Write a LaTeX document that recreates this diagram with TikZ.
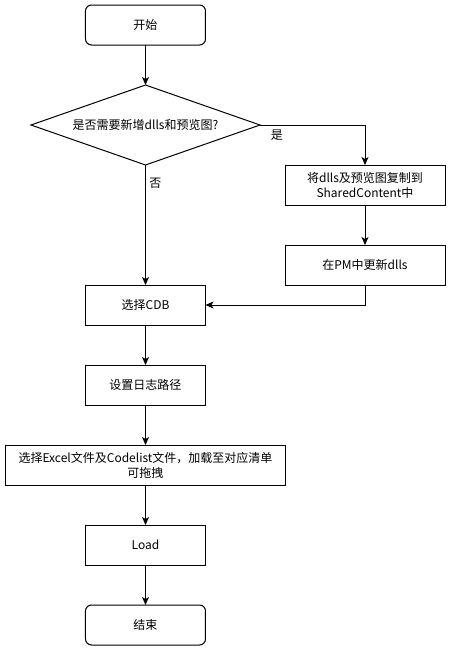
\documentclass[tikz,border=0pt]{standalone}
\usepackage{fontspec}
\setmainfont{Noto Sans CJK SC}
\usepackage{tikz}
\usetikzlibrary{arrows.meta,positioning,shapes.geometric}

\begin{document}
\begin{tikzpicture}[
  term/.style={rectangle,rounded corners=6pt,draw=black,fill=white,line width=1pt,
               inner sep=0pt,outer sep=0pt,minimum width=120pt, minimum height=40pt,
               align=center},
  proc/.style={rectangle,draw=black,fill=white,line width=1pt,
               inner sep=0pt,outer sep=0pt,minimum width=120pt, minimum height=40pt,
               align=center},
  wideproc/.style={proc, minimum width=160pt},
  decide/.style={diamond,draw=black,fill=white,line width=1pt,inner sep=0pt,
                 outer sep=0pt,aspect=2.86, minimum width=229pt, minimum height=80pt},
  flow/.style={line width=1pt,-{Stealth[length=8pt,width=7pt,inset=2pt]}},
  every node/.style={font=\fontsize{12}{15}\selectfont},
  node distance=40pt,
]
  \useasboundingbox (-145.5pt,25pt) rectangle (305.5pt,-626pt);

  %% Main column
  \node[term](start){开始};
  \node[decide,below=40pt of start,
        label={center:是否需要新增dlls和预览图?}](ask){};
  \node[proc,below=120pt of ask](cdb){选择CDB};
  \node[proc,below=of cdb](logpath){设置日志路径};
  \node[proc,below=of logpath,minimum width=280pt](files)
    {选择Excel文件及Codelist文件，加载至对应清单\\可拖拽};
  \node[proc,below=of files](load){Load};
  \node[term,below=of load](stop){结束};

  %% Branch for new dlls
  \node[wideproc,below right=40pt and 25pt of ask.east](copy)
    {将dlls及预览图复制到\\SharedContent中};
  \node[wideproc,below=of copy](pm){在PM中更新dlls};

  %% Connectors
  \draw[flow] (start) -- (ask);
  \draw[flow] (ask.east) -| node[pos=0.08,below=1pt]{是} (copy.north);
  \draw[flow] (ask.south) -- node[pos=0.15,right]{否} (cdb.north);
  \draw[flow] (copy) -- (pm);
  \draw[flow] (pm.south) |- (cdb.east);
  \draw[flow] (cdb) -- (logpath);
  \draw[flow] (logpath) -- (files);
  \draw[flow] (files) -- (load);
  \draw[flow] (load) -- (stop);
\end{tikzpicture}
\end{document}
